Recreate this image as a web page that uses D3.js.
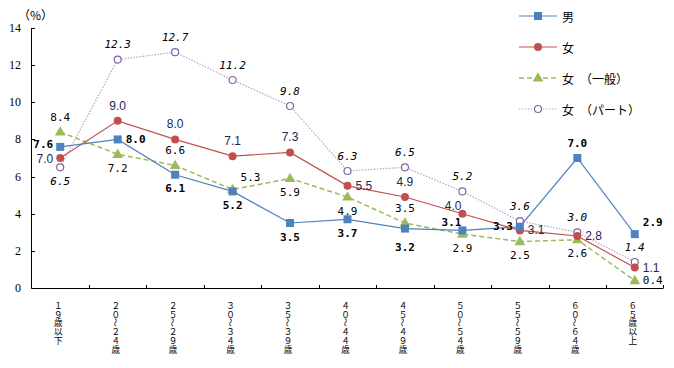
<!DOCTYPE html>
<html><head><meta charset="utf-8">
<script src="https://cdn.jsdelivr.net/npm/d3@7"></script>
<style>body{margin:0;background:#fff}svg{display:block}</style>
</head><body><svg id="c" width="674" height="368"></svg>
<script>
const categories = ["１９歳以下","２０～２４歳","２５～２９歳","３０～３４歳","３５～３９歳","４０～４４歳","４５～４９歳","５０～５４歳","５５～５９歳","６０～６４歳","６５歳以上"];
const male      = [7.6, 8.0, 6.1, 5.2, 3.5, 3.7, 3.2, 3.1, 3.3, 7.0, 2.9];
const female    = [7.0, 9.0, 8.0, 7.1, 7.3, 5.5, 4.9, 4.0, 3.1, 2.8, 1.1];
const femaleGen = [8.4, 7.2, 6.6, 5.3, 5.9, 4.9, 3.5, 2.9, 2.5, 2.6, 0.4];
const femalePart= [6.5, 12.3, 12.7, 11.2, 9.8, 6.3, 6.5, 5.2, 3.6, 3.0, 1.4];
const seriesNames = ["男","女","女　（一般）","女　（パート）"];
const yTicks = [0,2,4,6,8,10,12,14];
// label placement codes (L=left, R=right, A=above, B=below, AL=above-left, AR=above-right)
const malePos   = ["LU","R","B","B","B","B","B2","AL","L","A","AR"];
const femalePos = ["LD","A","A","A","A","R","A","AL","R","R","R"];
const genPos    = ["A","B","A","AR","B","B","A","B","B","B","R"];
const partPos   = ["B","A","A","A","A","A","A","A","A","A","A"];

const svg = d3.select("#c");
const x = d3.scaleBand().domain(categories).range([31.5, 663.5]).paddingInner(0).paddingOuter(0);
const y = d3.scaleLinear().domain([0,14]).range([288, 28]);
const cx = d => x(d) + x.bandwidth()/2;

// axes
svg.append("line").attr("x1",31.5).attr("x2",31.5).attr("y1",y(14)).attr("y2",y(0)+0.5).attr("stroke","#000");
svg.append("line").attr("x1",31.5).attr("x2",663.5).attr("y1",y(0)+0.5).attr("y2",y(0)+0.5).attr("stroke","#000");
yTicks.forEach(t=>{
  svg.append("line").attr("x1",31.5).attr("x2",35).attr("y1",Math.round(y(t))+0.5).attr("y2",Math.round(y(t))+0.5).attr("stroke","#000");
  svg.append("text").attr("x",21).attr("y",y(t)).attr("text-anchor","end").attr("dominant-baseline","central")
    .attr("font-family","Liberation Serif").attr("font-size",12).text(t);
});
categories.forEach((c,i)=>{
  if(i>0){ const xx=Math.round(x(c))+0.5; svg.append("line").attr("x1",xx).attr("x2",xx).attr("y1",y(0)).attr("y2",y(0)-3).attr("stroke","#000"); }
});
svg.append("line").attr("x1",663.5).attr("x2",663.5).attr("y1",y(0)).attr("y2",y(0)-3).attr("stroke","#000");
svg.append("text").attr("x",18).attr("y",14).attr("font-family","Noto Sans CJK JP").attr("font-size",12).attr("dominant-baseline","central").text("（%）");

// x category labels stacked vertically, one character per line
categories.forEach(c=>{
  const chars = Array.from(c);
  chars.forEach((ch,k)=>{
    const t = svg.append("text").attr("font-family","Noto Sans CJK JP").attr("font-size",8.6)
      .attr("text-anchor","middle").attr("dominant-baseline","central");
    const px = cx(c)-2, py = 305 + k*8.7;
    if(ch==="～"){ t.attr("transform",`translate(${px},${py}) rotate(90)`).text(ch); }
    else t.attr("x",px).attr("y",py).text(ch);
  });
});

const series = [
  {name:seriesNames[0], data:male, color:"#4F81BD", dash:null, width:1.2, marker:"square", pos:malePos,
   font:"DejaVu Sans Mono", weight:"bold", style:"normal", fill:"#000", size:11},
  {name:seriesNames[1], data:female, color:"#C0504D", dash:null, width:1.2, marker:"circle", pos:femalePos,
   font:"Liberation Sans", weight:"normal", style:"normal", fill:"#262650", size:12},
  {name:seriesNames[2], data:femaleGen, color:"#9BBB59", dash:"5,3", width:1.5, marker:"triangle", pos:genPos,
   font:"DejaVu Sans Mono", weight:"normal", style:"normal", fill:"#000", size:11},
  {name:seriesNames[3], data:femalePart, color:"#B3A2C7", dash:"1.5,1.5", width:1.2, marker:"open", pos:partPos,
   font:"DejaVu Sans Mono", weight:"normal", style:"italic", fill:"#000", size:11}
];
const drawOrder = [3,2,1,0];
function marker(g, type, px, py){
  if(type==="square") g.append("rect").attr("x",px-4).attr("y",py-4).attr("width",8).attr("height",8).attr("fill","#4F81BD");
  else if(type==="circle") g.append("circle").attr("cx",px).attr("cy",py).attr("r",4).attr("fill","#C0504D");
  else if(type==="triangle") g.append("path").attr("d",d3.symbol(d3.symbolTriangle,50)()).attr("transform",`translate(${px},${py+0.5})`).attr("fill","#9BBB59");
  else g.append("circle").attr("cx",px).attr("cy",py).attr("r",3.5).attr("fill","#fff").attr("stroke","#8064A2").attr("stroke-width",1.2);
}
const line = d3.line().x((d,i)=>cx(categories[i])).y(d=>y(d));
drawOrder.forEach(si=>{
  const s=series[si];
  svg.append("path").attr("d",line(s.data)).attr("fill","none").attr("stroke",s.color).attr("stroke-width",s.width)
    .attr("stroke-dasharray",s.dash);
});
drawOrder.forEach(si=>{
  const s=series[si];
  s.data.forEach((v,i)=>marker(svg,s.marker,cx(categories[i]),y(v)));
});
// labels
series.forEach(s=>{
  s.data.forEach((v,i)=>{
    const px=cx(categories[i]), py=y(v);
    let tx=px, ty=py, anchor="middle";
    switch(s.pos[i]){
      case "L": tx=px-7; anchor="end"; break;
      case "LU": tx=px-7; anchor="end"; ty=py-2; break;
      case "LD": tx=px-7; anchor="end"; ty=py+1; break;
      case "R": tx=px+8; anchor="start"; break;
      case "A": ty=py-15; break;
      case "B": ty=py+14; break;
      case "B2": ty=py+19; break;
      case "AL": tx=px-1; anchor="end"; ty=py-8; break;
      case "AR": tx=px+8; anchor="start"; ty=py-12; break;
    }
    svg.append("text").attr("x",tx).attr("y",ty).attr("text-anchor",anchor).attr("dominant-baseline","central")
      .attr("font-family",s.font).attr("font-weight",s.weight).attr("font-style",s.style)
      .attr("font-size",s.size).attr("fill",s.fill).text(v.toFixed(1));
  });
});
// legend
series.forEach((s,k)=>{
  const ly = 16 + k*31;
  svg.append("line").attr("x1",519).attr("x2",557).attr("y1",ly).attr("y2",ly).attr("stroke",s.color)
    .attr("stroke-width",s.width).attr("stroke-dasharray",s.dash);
  marker(svg,s.marker,538,ly);
  svg.append("text").attr("x",562).attr("y",ly).attr("dominant-baseline","central")
    .attr("font-family","Noto Sans CJK JP").attr("font-size",12).text(s.name);
});
</script></body></html>
